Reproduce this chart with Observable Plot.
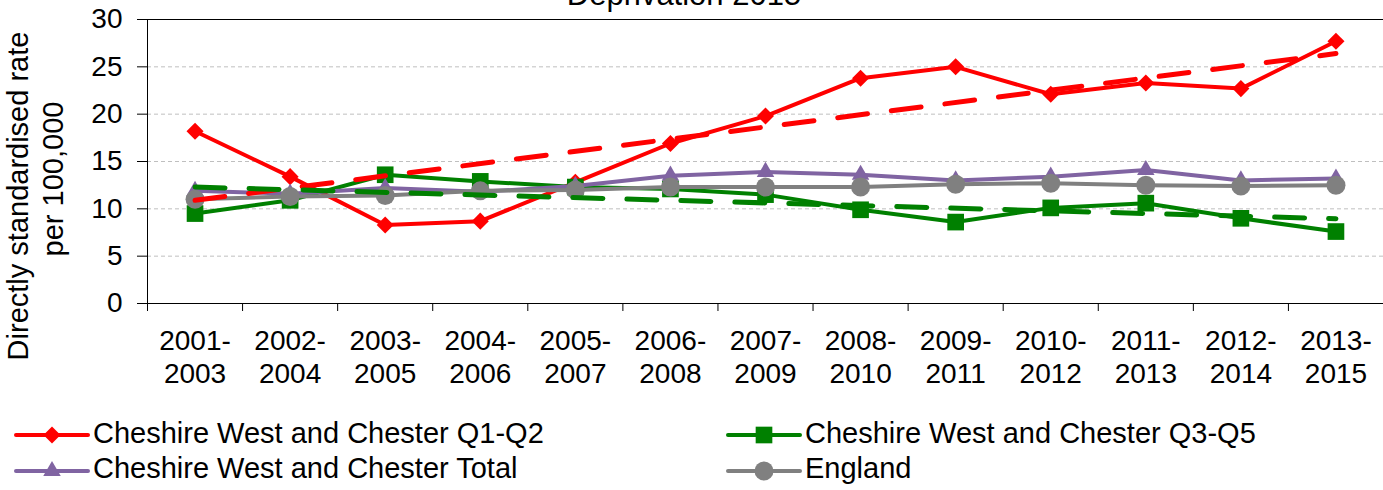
<!DOCTYPE html>
<html>
<head>
<meta charset="utf-8">
<script src="https://cdn.jsdelivr.net/npm/d3@7"></script>
<script src="https://cdn.jsdelivr.net/npm/@observablehq/plot@0.6"></script>
<style>
  html, body { margin: 0; padding: 0; background: #fff; }
  body { font-family: "Liberation Sans", Arial, sans-serif; }
</style>
</head>
<body>
<div id="chart"></div>
<script>
// ---- Data ----
const chartTitle = "Deprivation 2015";
const yTitleLines = ["Directly standardised rate", "per 100,000"];
const periods = ["2001-2003","2002-2004","2003-2005","2004-2006","2005-2007","2006-2008","2007-2009",
                 "2008-2010","2009-2011","2010-2012","2011-2013","2012-2014","2013-2015"];
const seriesNames = ["Cheshire West and Chester Q1-Q2", "Cheshire West and Chester Q3-Q5",
                     "Cheshire West and Chester Total", "England"];
const q1q2    = [18.2, 13.4, 8.3, 8.7, 12.8, 16.9, 19.8, 23.8, 25.0, 22.1, 23.3, 22.7, 27.7];
const q3q5    = [9.5, 10.9, 13.6, 12.9, 12.3, 12.1, 11.5, 9.9, 8.6, 10.1, 10.6, 9.0, 7.6];
const total   = [11.9, 11.6, 12.2, 11.8, 12.4, 13.5, 13.9, 13.6, 13.0, 13.4, 14.1, 13.0, 13.2];
const england = [11.0, 11.3, 11.4, 11.9, 12.0, 12.3, 12.3, 12.3, 12.6, 12.7, 12.5, 12.4, 12.5];
// linear trend lines: value at first and last period
const trendQ1Q2 = [10.9, 26.4];
const trendQ3Q5 = [12.3, 8.95];
const yTicks = [0, 5, 10, 15, 20, 25, 30];

// ---- Styling ----
const FONT = "Liberation Sans, Arial, sans-serif";
const styles = [
  {color: "#FF0000", symbol: "square",   r: 6.8, rotate: 45},
  {color: "#008000", symbol: "square",   r: 9.4, rotate: 0},
  {color: "#8064A2", symbol: "triangle", r: 6.5, rotate: 0},
  {color: "#808080", symbol: "circle",   r: 9.5, rotate: 0}
];
const seriesValues = [q1q2, q3q5, total, england];
const series = seriesNames.map((name, k) => ({
  name, ...styles[k],
  rows: seriesValues[k].map((v, i) => ({i, v}))
}));
const last = periods.length - 1;
const trends = [
  {color: "#FF0000", rows: [{i: 0, v: trendQ1Q2[0]}, {i: last, v: trendQ1Q2[1]}]},
  {color: "#008000", rows: [{i: 0, v: trendQ3Q5[0]}, {i: last, v: trendQ3Q5[1]}]}
];

const W = 1383, H = 490;
const marks = [];
// gridlines
marks.push(Plot.ruleY(yTicks.filter(t => t > 0 && t < 30), {stroke: "#BFBFBF", strokeWidth: 1, strokeDasharray: "4,3"}));
marks.push(Plot.ruleY([30], {stroke: "#000", strokeWidth: 1}));
// series
for (const s of series) {
  marks.push(Plot.line(s.rows, {x: "i", y: "v", stroke: s.color, strokeWidth: 4, strokeLinejoin: "round"}));
  marks.push(Plot.dot(s.rows, {x: "i", y: "v", fill: s.color, symbol: s.symbol, r: s.r, rotate: s.rotate}));
}
// trend lines
for (const t of trends) {
  marks.push(Plot.line(t.rows, {x: "i", y: "v", stroke: t.color, strokeWidth: 5,
    strokeDasharray: "30,24", strokeLinecap: "round"}));
}
// axes
marks.push(Plot.axisY({ticks: yTicks, tickSize: 10, tickPadding: 15, fontSize: 28, label: null}));
marks.push(Plot.axisX({ticks: d3.range(periods.length + 1).map(i => i - 0.5), tickSize: 8,
  tickFormat: () => "", label: null}));
marks.push(Plot.text(periods, {x: (d, i) => i, frameAnchor: "bottom", dy: 22, lineAnchor: "top",
  lineHeight: 1.21, fontSize: 28, fill: "#000", text: d => d.replace("-", "-\n")}));
marks.push(Plot.ruleX([-0.5], {stroke: "#000", strokeWidth: 1}));
marks.push(Plot.ruleY([0], {stroke: "#000", strokeWidth: 1}));

const plot = Plot.plot({
  width: W, height: H,
  marginLeft: 147, marginRight: 0, marginTop: 19, marginBottom: H - 303,
  style: {fontFamily: FONT, fontSize: "28px", color: "#000", background: "#fff", overflow: "visible"},
  x: {type: "linear", domain: [-0.5, periods.length - 0.5], axis: null},
  y: {domain: [0, 30], axis: null},
  marks
});
document.getElementById("chart").appendChild(plot);

// ---- Title, y-axis title and legend (annotations) ----
const svg = d3.select(plot);
svg.append("text").attr("x", 684).attr("y", 5).attr("text-anchor", "middle")
  .attr("font-family", FONT).attr("font-size", 31).attr("fill", "#000").text(chartTitle);

const yt = [{x: 28, y: 196}, {x: 63, y: 179}];
yTitleLines.forEach((line, k) => {
  svg.append("text").attr("transform", `translate(${yt[k].x},${yt[k].y}) rotate(-90)`)
    .attr("text-anchor", "middle").attr("font-family", FONT).attr("font-size", 29)
    .attr("fill", "#000").text(line);
});

const legendPos = [
  {x0: 16, x1: 88, tx: 93, ly: 435, by: 443},
  {x0: 728, x1: 800, tx: 805, ly: 435, by: 443},
  {x0: 16, x1: 88, tx: 93, ly: 471, by: 478},
  {x0: 728, x1: 800, tx: 805, ly: 471, by: 478}
];
const symMap = {square: d3.symbolSquare, triangle: d3.symbolTriangle, circle: d3.symbolCircle};
series.forEach((s, k) => {
  const p = legendPos[k];
  const g = svg.append("g");
  g.append("line").attr("x1", p.x0).attr("x2", p.x1).attr("y1", p.ly).attr("y2", p.ly)
    .attr("stroke", s.color).attr("stroke-width", 4).attr("stroke-linecap", "round");
  g.append("path").attr("d", d3.symbol(symMap[s.symbol], Math.PI * s.r * s.r)())
    .attr("transform", `translate(${(p.x0 + p.x1) / 2},${p.ly}) rotate(${s.rotate})`)
    .attr("fill", s.color);
  g.append("text").attr("x", p.tx).attr("y", p.by).attr("text-anchor", "start")
    .attr("font-family", FONT).attr("font-size", 29).attr("fill", "#000").text(s.name);
});
</script>
</body>
</html>
